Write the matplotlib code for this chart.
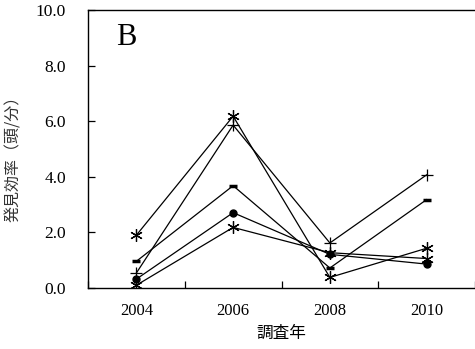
import matplotlib
matplotlib.use("Agg")
import matplotlib.pyplot as plt

years = [2004, 2006, 2008, 2010]

# 発見効率（頭/分）per series
star_high = [1.9, 6.18, 0.38, 1.43]
plus_line = [0.54, 5.86, 1.62, 4.07]
dash_line = [0.96, 3.68, 0.72, 3.18]
dot_line = [0.32, 2.71, 1.21, 0.86]
star_low = [0.10, 2.18, 1.27, 1.06]

y_ticks = [0, 2, 4, 6, 8, 10]
minor_year_ticks = [2003, 2005, 2007, 2009, 2011]

SERIF = "Liberation Serif"
JP = ["Noto Sans CJK JP", "DejaVu Sans"]

fig = plt.figure(figsize=(4.75, 3.49), dpi=100)
ax = fig.add_axes([88 / 475, 1 - 288 / 349, 387 / 475, 278 / 349])

asterisk = (6, 2, 0)
ax.plot(years, star_high, color="black", lw=0.9, marker=asterisk, ms=9, mew=0.9)
ax.plot(years, plus_line, color="black", lw=0.9, marker="+", ms=9, mew=0.9)
ax.plot(years, dash_line, color="black", lw=0.9, marker="_", ms=6, mew=2.5)
ax.plot(years, dot_line, color="black", lw=0.9, marker="o", ms=5)
ax.plot(years, star_low, color="black", lw=0.9, marker=asterisk, ms=9, mew=0.9)

ax.set_xlim(2003, 2011)
ax.set_ylim(0, 10)

# category style axis: ticks between years, labels at years
ax.set_xticks(minor_year_ticks)
ax.set_xticklabels([])
ax.set_xticks(years, minor=True)
ax.set_xticklabels([str(y) for y in years], minor=True, fontfamily=SERIF, fontsize=12)
ax.tick_params(axis="x", which="major", direction="in", length=5, width=0.9)
ax.tick_params(axis="x", which="minor", length=0, pad=11)

ax.set_yticks(y_ticks)
ax.set_yticklabels(["%.1f" % v for v in y_ticks], fontfamily=SERIF, fontsize=12.5)
ax.tick_params(axis="y", direction="in", length=5, width=0.9, pad=16)

for side in ["left", "bottom", "top"]:
    ax.spines[side].set_linewidth(1.0)
ax.spines["right"].set_visible(False)

ax.set_xlabel("調査年", fontfamily=JP, fontsize=12, labelpad=4)
ax.set_ylabel("発見効率（頭/分）", fontfamily=JP, fontsize=11.5, color="#333333")
ax.yaxis.set_label_coords(-0.17, 0.48)

ax.text(0.10, 0.90, "B", transform=ax.transAxes, fontfamily=SERIF, fontsize=22,
        ha="center", va="center")

fig.savefig("out.png", dpi=100)
